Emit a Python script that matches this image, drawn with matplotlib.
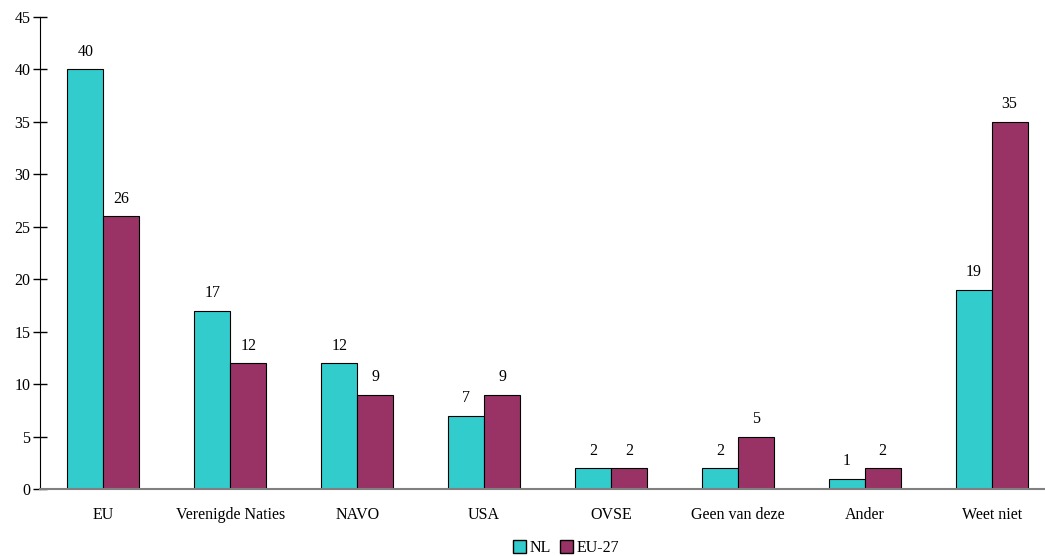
import numpy as np
import matplotlib
matplotlib.use("Agg")
import matplotlib.pyplot as plt
from matplotlib.patches import Patch

categories = ["EU", "Verenigde Naties", "NAVO", "USA", "OVSE",
              "Geen van deze", "Ander", "Weet niet"]
nl = [40, 17, 12, 7, 2, 2, 1, 19]
eu27 = [26, 12, 9, 9, 2, 5, 2, 35]
yticks = [0, 5, 10, 15, 20, 25, 30, 35, 40, 45]

plt.rcParams['font.family'] = ['Liberation Serif', 'DejaVu Serif']
Size = 11.5

fig = plt.figure(figsize=(10.45, 5.56), dpi=100)
# axes run slightly past the right edge, like the original
ax = fig.add_axes([40/1045, 1-489/556, 1015/1045, (489-17)/556])

x = np.arange(len(categories))
w = 0.284
b1 = ax.bar(x - w/2, nl, w, color="#33CCCC", edgecolor="black", linewidth=0.8, label="NL")
b2 = ax.bar(x + w/2, eu27, w, color="#993366", edgecolor="black", linewidth=0.8, label="EU-27")

for bars, vals in ((b1, nl), (b2, eu27)):
    for r, v in zip(bars, vals):
        ax.text(r.get_x() + r.get_width()/2, v + 0.9, str(v),
                ha="center", va="bottom", fontsize=Size)

ax.set_xlim(-0.5, len(categories) - 0.5)
ax.set_ylim(0, 45)
ax.set_yticks(yticks)
ax.set_yticklabels([str(t) for t in yticks], fontsize=Size)
ax.set_xticks(x)
ax.set_xticklabels(categories, fontsize=Size)
ax.tick_params(axis="x", length=0, pad=13)
ax.tick_params(axis="y", direction="inout", length=10, width=1, pad=2)

for s in ("top", "right"):
    ax.spines[s].set_visible(False)
ax.spines["left"].set_color("black")
ax.spines["bottom"].set_color("#808080")
ax.spines["bottom"].set_linewidth(1.5)

handles = [Patch(facecolor="#33CCCC", edgecolor="black", label="NL"),
           Patch(facecolor="#993366", edgecolor="black", label="EU-27")]
fig.legend(handles=handles, loc="center", bbox_to_anchor=(566/1045, 1-548/556),
           ncol=2, frameon=False, fontsize=Size, handlelength=0.8, handleheight=0.8,
           handletextpad=0.2, columnspacing=0.6, borderpad=0)

fig.savefig("out.png", dpi=100)
